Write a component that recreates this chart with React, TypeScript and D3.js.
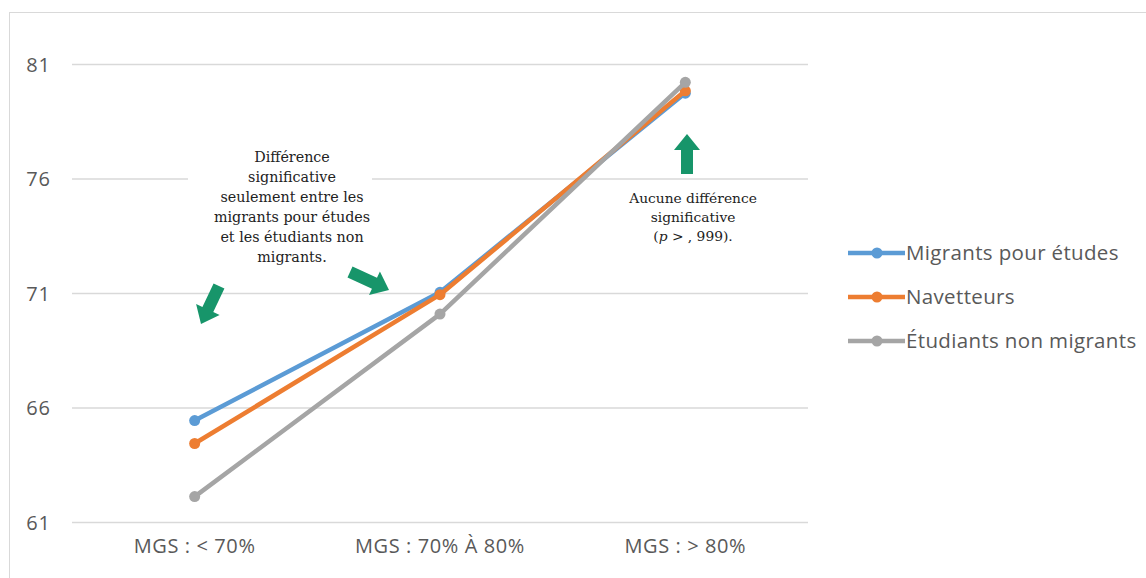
import React from "react";
import * as d3 from "d3";

const categories = ["MGS : < 70%", "MGS : 70% À 80%", "MGS : > 80%"];
const seriesNames = ["Migrants pour études", "Navetteurs", "Étudiants non migrants"];
const migrants = [65.45, 71.05, 79.75];
const navetteurs = [64.45, 70.95, 79.85];
const nonMigrants = [62.13, 70.1, 80.22];
const yTicks = [61, 66, 71, 76, 81];
const colors = ["#5B9BD5", "#ED7D31", "#A5A5A5"];

const note1 = [
  "Différence",
  "significative",
  "seulement  entre les",
  "migrants pour études",
  "et les étudiants non",
  "migrants.",
];

function arrowPath(x1: number, y1: number, x2: number, y2: number, sw: number, hw: number, hl: number) {
  const dx = x2 - x1, dy = y2 - y1;
  const len = Math.hypot(dx, dy);
  const ux = dx / len, uy = dy / len;
  const px = -uy, py = ux;
  const bx = x2 - ux * hl, by = y2 - uy * hl;
  const pts = [
    [x1 + px * sw / 2, y1 + py * sw / 2],
    [bx + px * sw / 2, by + py * sw / 2],
    [bx + px * hw / 2, by + py * hw / 2],
    [x2, y2],
    [bx - px * hw / 2, by - py * hw / 2],
    [bx - px * sw / 2, by - py * sw / 2],
    [x1 - px * sw / 2, y1 - py * sw / 2],
  ];
  return "M" + pts.map((p) => p.join(",")).join("L") + "Z";
}

export default function App() {
  const W = 1146, H = 578;
  const x = d3.scaleBand().domain(categories).range([72, 808]);
  const y = d3.scaleLinear().domain([61, 81]).range([522.5, 64.5]);
  const cx = (c: string) => (x(c) as number) + x.bandwidth() / 2;
  const data = [migrants, navetteurs, nonMigrants];
  const line = d3
    .line<number>()
    .x((_, i) => cx(categories[i]))
    .y((d) => y(d));
  const axisFont = "'Open Sans', 'Noto Sans', sans-serif";
  const serif = "'DejaVu Serif', 'Liberation Serif', serif";
  const green = "#17956A";

  return (
    <svg width={W} height={H} style={{ position: "absolute", left: 0, top: 0 }}>
      <rect x={0} y={0} width={W} height={H} fill="#fff" />
      <rect x={9.5} y={12.5} width={1200} height={700} fill="#fff" stroke="#D9D9D9" strokeWidth={1} />
      {yTicks.map((t) => (
        <g key={t}>
          <line x1={72} x2={808} y1={y(t)} y2={y(t)} stroke="#D9D9D9" strokeWidth={1.3} />
          <text x={51} y={y(t)} dy="0.35em" textAnchor="end" fontFamily={axisFont} fontSize={20} letterSpacing={1} fill="#595959">
            {t}
          </text>
        </g>
      ))}
      {categories.map((c) => (
        <text key={c} x={cx(c)} y={553} textAnchor="middle" fontFamily={axisFont} fontSize={20} letterSpacing={0.6} fill="#595959">
          {c}
        </text>
      ))}
      {/* annotation boxes */}
      <rect x={188} y={145} width={184} height={122} fill="#fff" />
      <rect x={604} y={187} width={177} height={60} fill="#fff" />
      {note1.map((l, i) => (
        <text key={i} x={292} y={162 + i * 20} textAnchor="middle" fontFamily={serif} fontSize={14.3} fill="#222">
          {l}
        </text>
      ))}
      <text x={693} y={203} textAnchor="middle" fontFamily={serif} fontSize={13.8} fill="#222">Aucune différence</text>
      <text x={693} y={222} textAnchor="middle" fontFamily={serif} fontSize={13.8} fill="#222">significative</text>
      <text x={693} y={241} textAnchor="middle" fontFamily={serif} fontSize={13.8} fill="#222">
        (<tspan fontStyle="italic">p</tspan> &gt; , 999).
      </text>
      {/* arrows */}
      <path d={arrowPath(219, 286, 201, 324, 12, 26, 16)} fill={green} />
      <path d={arrowPath(350, 272, 389, 290, 12, 26, 16)} fill={green} />
      <path d={arrowPath(687, 174, 687, 134, 12, 26, 16)} fill={green} />
      {/* series */}
      {[0, 1, 2].map((si) => (
        <g key={si}>
          <path d={line(data[si]) as string} fill="none" stroke={colors[si]} strokeWidth={4.5} strokeLinejoin="round" />
          {data[si].map((v, i) => (
            <circle key={i} cx={cx(categories[i])} cy={y(v)} r={5.5} fill={colors[si]} />
          ))}
        </g>
      ))}
      {/* legend */}
      {seriesNames.map((n, i) => {
        const ly = 253 + i * 44;
        return (
          <g key={n}>
            <line x1={848} x2={905} y1={ly} y2={ly} stroke={colors[i]} strokeWidth={4.5} />
            <circle cx={877} cy={ly} r={5.5} fill={colors[i]} />
            <text x={906} y={ly} dy="0.35em" fontFamily={axisFont} fontSize={20.5} letterSpacing={0.35} fill="#595959">
              {n}
            </text>
          </g>
        );
      })}
    </svg>
  );
}
